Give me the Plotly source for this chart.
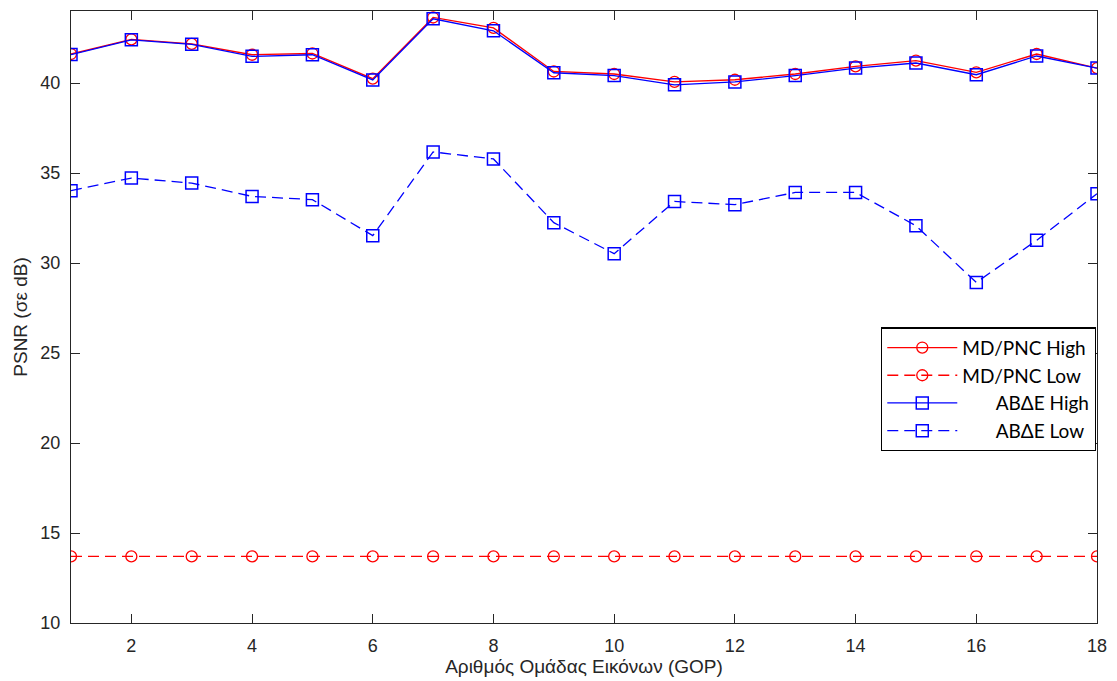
import plotly.graph_objects as go

gop = list(range(1, 19))

mdpnc_high = [41.61, 42.42, 42.17, 41.57, 41.64, 40.24, 43.64, 43.06, 40.64,
              40.50, 40.06, 40.18, 40.50, 40.92, 41.24, 40.59, 41.61, 40.83]
mdpnc_low = [13.7] * 18
abde_high = [41.58, 42.40, 42.15, 41.48, 41.57, 40.17, 43.57, 42.90, 40.57,
             40.41, 39.90, 40.06, 40.41, 40.83, 41.11, 40.46, 41.50, 40.83]
abde_low = [34.02, 34.72, 34.44, 33.70, 33.52, 31.52, 36.17, 35.78, 32.24,
            30.52, 33.42, 33.24, 33.92, 33.92, 32.07, 28.92, 31.26, 33.85]

names = ["MD/PNC High", "MD/PNC Low",
         "\u00a0\u00a0\u00a0\u00a0\u00a0\u00a0\u00a0ABΔE High",
         "\u00a0\u00a0\u00a0\u00a0\u00a0\u00a0\u00a0ABΔE Low"]

x_ticks = [2, 4, 6, 8, 10, 12, 14, 16, 18]
y_ticks = [10, 15, 20, 25, 30, 35, 40]

RED = "#ff0000"
BLUE = "#0000ff"
DASH = "11px,6px"

fig = go.Figure()
fig.add_trace(go.Scatter(
    x=gop, y=mdpnc_high, name=names[0], mode="lines+markers",
    line=dict(color=RED, width=1.3),
    marker=dict(symbol="circle-open", size=11, color=RED, line=dict(width=1.3))))
fig.add_trace(go.Scatter(
    x=gop, y=mdpnc_low, name=names[1], mode="lines+markers",
    line=dict(color=RED, width=1.3, dash=DASH),
    marker=dict(symbol="circle-open", size=11, color=RED, line=dict(width=1.3))))
fig.add_trace(go.Scatter(
    x=gop, y=abde_high, name=names[2], mode="lines+markers",
    line=dict(color=BLUE, width=1.3),
    marker=dict(symbol="square-open", size=12, color=BLUE, line=dict(width=1.5))))
fig.add_trace(go.Scatter(
    x=gop, y=abde_low, name=names[3], mode="lines+markers",
    line=dict(color=BLUE, width=1.3, dash=DASH),
    marker=dict(symbol="square-open", size=12, color=BLUE, line=dict(width=1.5))))

axis_common = dict(
    showgrid=False, zeroline=False, showline=True, linecolor="#262626",
    linewidth=1.3, mirror="ticks", ticks="inside", ticklen=9, tickwidth=1.3,
    tickcolor="#262626", ticklabelstandoff=6,
    tickfont=dict(family="Liberation Sans, Arial, sans-serif", size=18, color="#262626"),
)

fig.update_layout(
    width=1117, height=681,
    margin=dict(l=71, r=14, t=10, b=58),
    paper_bgcolor="white", plot_bgcolor="white",
    font=dict(family="Liberation Sans, Arial, sans-serif", color="#262626"),
    xaxis=dict(range=[1, 18], tickvals=x_ticks, ticktext=[str(v) for v in x_ticks],
               title=dict(text="Αριθμός Ομάδας Εικόνων (GOP)", standoff=2,
                          font=dict(size=19, color="#262626")),
               **axis_common),
    yaxis=dict(range=[10, 44], tickvals=y_ticks, ticktext=[str(v) for v in y_ticks],
               title=dict(text="PSNR (σε dB)", standoff=7,
                          font=dict(size=19, color="#262626")),
               **axis_common),
    legend=dict(x=0.999, xanchor="right", y=0.483, yanchor="top",
                bgcolor="white", bordercolor="#000000", borderwidth=1.3,
                font=dict(family="Lato, Noto Sans, sans-serif", size=19, color="#000000"),
                tracegroupgap=0, itemwidth=70),
    showlegend=True,
)

fig.write_html(
    "out.html",
    config={"displayModeBar": False},
    post_script=(
        "document.documentElement.style.overflow='hidden';"
        "document.body.style.margin='0';document.body.style.overflow='hidden';"
    ),
)
